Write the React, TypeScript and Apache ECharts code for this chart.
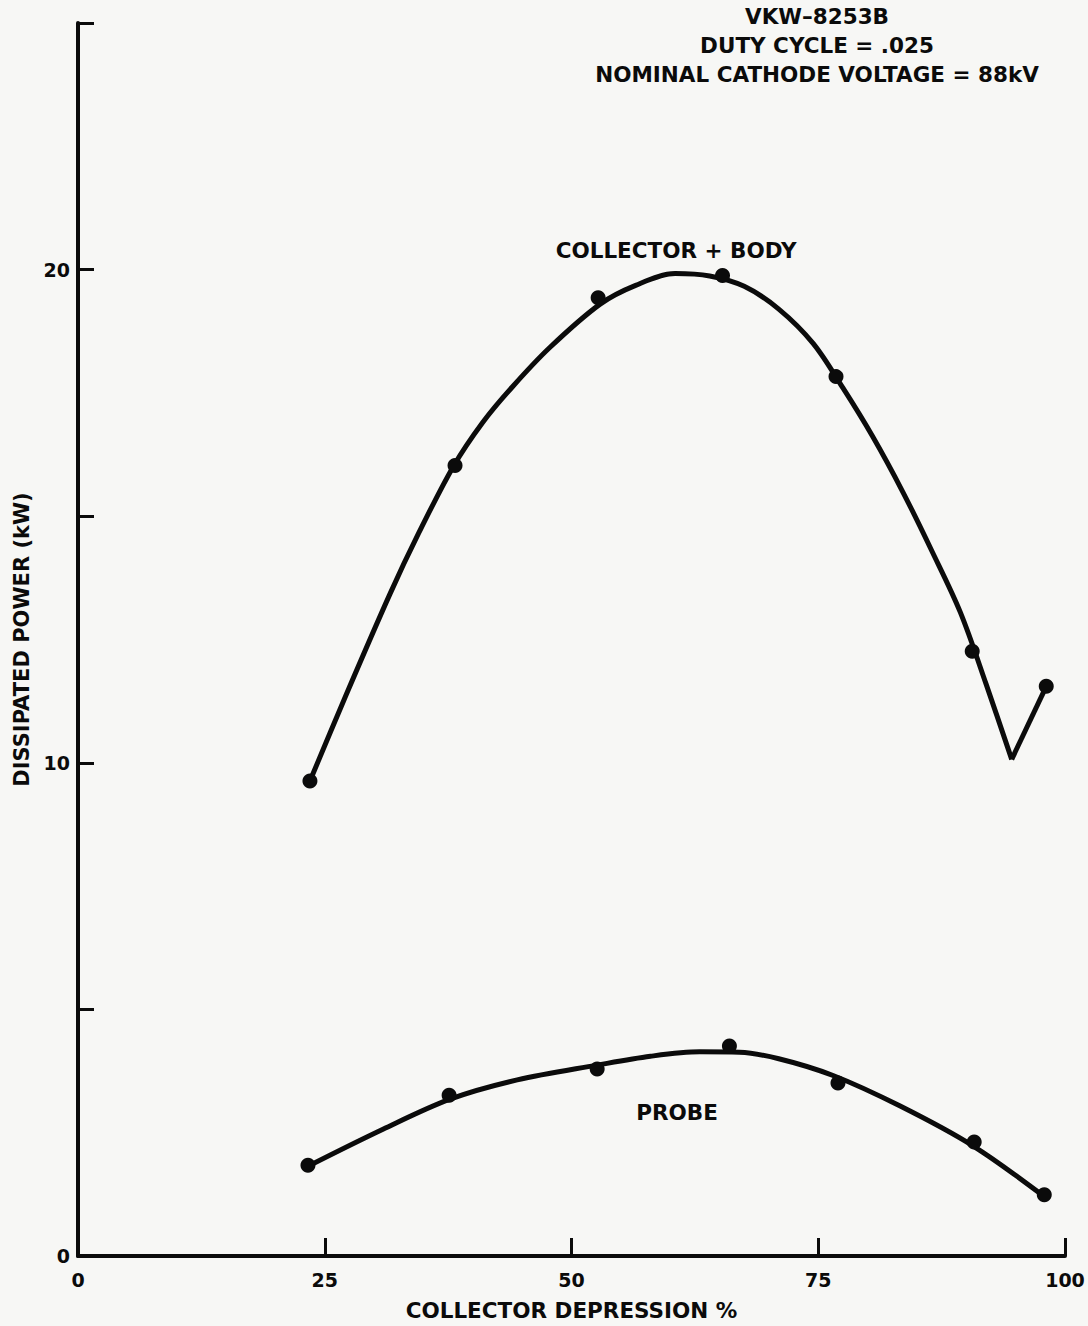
import React, { useEffect, useRef } from "react";
import * as echarts from "echarts";

// Header texts
const titleLines = ["VKW\u20138253B", "DUTY CYCLE = .025", "NOMINAL CATHODE VOLTAGE = 88kV"];
const xAxisName = "COLLECTOR DEPRESSION %";
const yAxisName = "DISSIPATED POWER (kW)";
const yLabelled = [0, 10, 20];

// Collector + body: measured points
const cbPointsX = [23.5, 38.2, 52.7, 65.3, 76.8, 90.6, 98.1];
const cbPointsY = [9.63, 16.03, 19.43, 19.88, 17.83, 12.26, 11.55];
// Collector + body: drawn curve
const cbCurveX = [23.5, 27, 31.6, 34.5, 38, 41, 44, 47.8, 52.9, 56.5, 60.5, 64, 67.5, 71, 74.5, 77.5, 80.5, 83.6, 86.5, 89.4, 92, 94.6];
const cbCurveY = [9.63, 11.3, 13.42, 14.65, 16.0, 16.9, 17.62, 18.42, 19.3, 19.68, 19.92, 19.87, 19.66, 19.2, 18.5, 17.6, 16.62, 15.48, 14.3, 13.05, 11.6, 10.07];
const cbTailX = [94.6, 98.1];
const cbTailY = [10.07, 11.55];

// Probe: measured points
const prPointsX = [23.3, 37.6, 52.6, 66.0, 77.0, 90.8, 97.9];
const prPointsY = [1.84, 3.26, 3.79, 4.26, 3.51, 2.31, 1.24];
// Probe: drawn curve
const prCurveX = [23.3, 30.9, 37.7, 44.5, 52.6, 58, 63, 67, 71, 76.5, 83.3, 90.7, 97.8];
const prCurveY = [1.82, 2.57, 3.18, 3.57, 3.87, 4.05, 4.14, 4.13, 4.0, 3.66, 3.04, 2.23, 1.22];

const seriesLabels = [
  { text: "COLLECTOR + BODY", x: 60.6, y: 20.38 },
  { text: "PROBE", x: 60.7, y: 2.9 },
];

const zip = (xs: number[], ys: number[]) => xs.map((x, i) => [x, ys[i]]);

const FONT = "'DejaVu Sans', Verdana, sans-serif";
const INK = "#0b0b0b";

export default function App() {
  const ref = useRef<HTMLDivElement>(null);
  useEffect(() => {
    document.body.style.margin = "0";
    const chart = echarts.init(ref.current!, null, { renderer: "svg" });
    const lineStyle = { color: INK, width: 5, opacity: 1 };
    chart.setOption({
      animation: false,
      backgroundColor: "#f7f7f5",
      grid: { left: 78, right: 23, top: 23, bottom: 69 },
      xAxis: {
        type: "value",
        min: 0,
        max: 100,
        interval: 25,
        name: xAxisName,
        nameLocation: "middle",
        nameGap: 43,
        nameTextStyle: { fontFamily: FONT, fontWeight: "bold", fontSize: 21.5, color: INK },
        axisLine: { lineStyle: { color: INK, width: 4 } },
        axisTick: { inside: true, length: 18, lineStyle: { color: INK, width: 3 } },
        axisLabel: { margin: 14, fontFamily: FONT, fontWeight: "bold", fontSize: 19, color: INK },
        splitLine: { show: false },
      },
      yAxis: {
        type: "value",
        min: 0,
        max: 25,
        interval: 5,
        name: yAxisName,
        nameLocation: "middle",
        nameGap: 46,
        nameTextStyle: { fontFamily: FONT, fontWeight: "bold", fontSize: 21, color: INK },
        axisLine: { lineStyle: { color: INK, width: 4 } },
        axisTick: { inside: true, length: 16, lineStyle: { color: INK, width: 3 } },
        axisLabel: {
          margin: 8,
          fontFamily: FONT,
          fontWeight: "bold",
          fontSize: 19,
          color: INK,
          formatter: (v: number) => (yLabelled.includes(v) ? String(v) : ""),
        },
        splitLine: { show: false },
      },
      graphic: [
        {
          type: "group",
          children: titleLines.map((t, i) => ({
            type: "text",
            x: 817,
            y: 5 + i * 29,
            style: {
              text: t,
              fill: INK,
              font: `bold 21.5px ${FONT}`,
              textAlign: "center",
              textVerticalAlign: "top",
            },
          })),
        },
      ],
      series: [
        {
          type: "line",
          data: zip(cbCurveX, cbCurveY),
          smooth: 0.33,
          showSymbol: false,
          lineStyle,
          z: 2,
        },
        {
          type: "line",
          data: zip(cbTailX, cbTailY),
          showSymbol: false,
          lineStyle,
          z: 2,
        },
        {
          type: "line",
          data: zip(prCurveX, prCurveY),
          smooth: 0.33,
          showSymbol: false,
          lineStyle,
          z: 2,
        },
        {
          type: "scatter",
          data: zip(cbPointsX, cbPointsY),
          symbol: "circle",
          symbolSize: 15,
          itemStyle: { color: INK, opacity: 1 },
          z: 3,
        },
        {
          type: "scatter",
          data: zip(prPointsX, prPointsY),
          symbol: "circle",
          symbolSize: 15,
          itemStyle: { color: INK, opacity: 1 },
          z: 3,
        },
        {
          type: "scatter",
          data: seriesLabels.map((l) => ({ value: [l.x, l.y], name: l.text })),
          symbolSize: 1,
          silent: true,
          itemStyle: { color: "rgba(0,0,0,0)", opacity: 1 },
          label: {
            show: true,
            position: "inside",
            formatter: (p: any) => p.name,
            fontFamily: FONT,
            fontWeight: "bold",
            fontSize: 21.5,
            color: INK,
          },
          z: 4,
        },
      ],
    });
    return () => chart.dispose();
  }, []);
  return (
    <div
      ref={ref}
      style={{ position: "fixed", left: 0, top: 0, width: 1088, height: 1326 }}
    />
  );
}
